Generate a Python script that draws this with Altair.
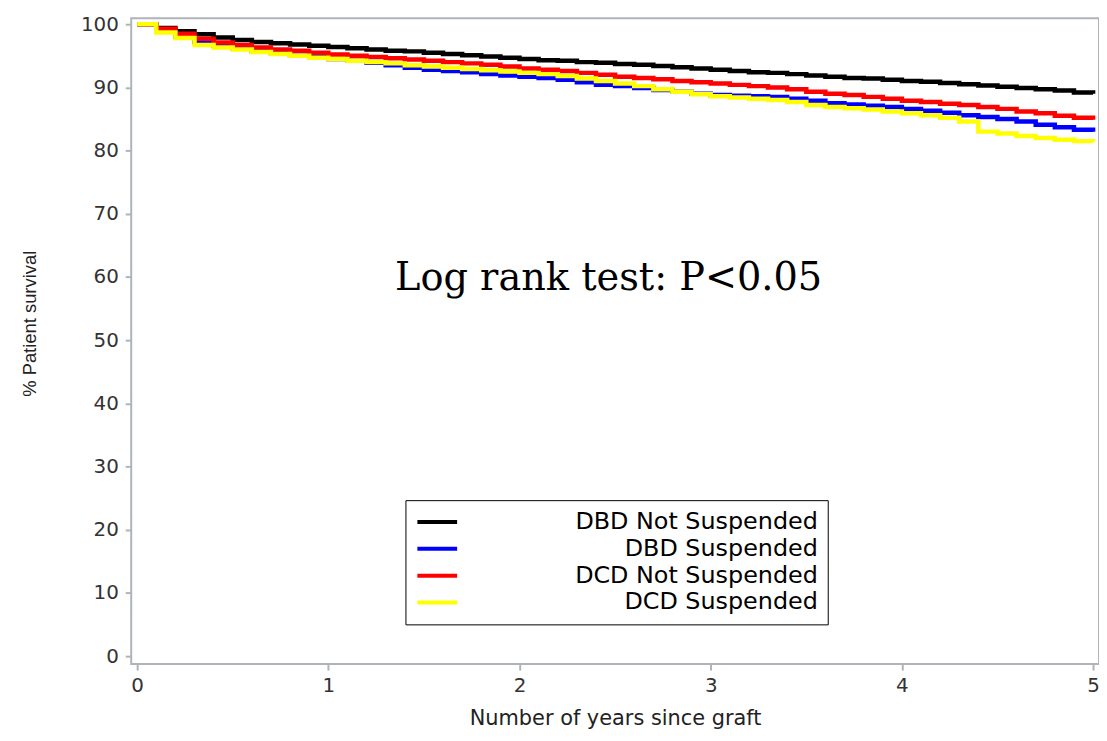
import altair as alt
import pandas as pd

# time grid (years since graft)
years = [round(i * 0.1, 1) for i in range(51)]

series_names = ["DBD Not Suspended", "DBD Suspended", "DCD Not Suspended", "DCD Suspended"]
series_colors = ["#000000", "#0000ff", "#ff0000", "#ffff00"]

dbd_not_suspended = [100, 99.4, 98.9, 98.4, 97.9, 97.5, 97.2, 97.0, 96.8, 96.6,
                     96.4, 96.2, 96.0, 95.8, 95.7, 95.5, 95.3, 95.1, 94.9, 94.7,
                     94.5, 94.3, 94.2, 94.0, 93.9, 93.7, 93.6, 93.4, 93.2, 93.0,
                     92.8, 92.6, 92.4, 92.3, 92.1, 91.9, 91.7, 91.5, 91.4, 91.2,
                     91.0, 90.9, 90.7, 90.5, 90.3, 90.1, 89.9, 89.7, 89.5, 89.2, 89.0]
dbd_suspended = [100, 99.0, 98.0, 97.2, 96.6, 96.2, 95.8, 95.4, 95.0, 94.8,
                 94.5, 94.2, 93.9, 93.5, 93.1, 92.8, 92.6, 92.4, 92.1, 91.9,
                 91.7, 91.5, 91.2, 90.8, 90.4, 90.2, 89.9, 89.6, 89.3, 89.0,
                 88.8, 88.7, 88.6, 88.5, 88.2, 87.9, 87.5, 87.3, 87.1, 86.9,
                 86.6, 86.3, 86.0, 85.6, 85.3, 85.0, 84.6, 84.1, 83.7, 83.3, 83.0]
dcd_not_suspended = [100, 99.3, 98.5, 97.7, 97.1, 96.7, 96.3, 96.0, 95.8, 95.5,
                     95.2, 95.0, 94.8, 94.6, 94.4, 94.2, 94.0, 93.8, 93.6, 93.3,
                     93.0, 92.8, 92.6, 92.3, 92.0, 91.7, 91.5, 91.3, 91.0, 90.8,
                     90.6, 90.4, 90.2, 90.0, 89.7, 89.3, 89.0, 88.8, 88.5, 88.2,
                     87.9, 87.7, 87.4, 87.2, 86.9, 86.6, 86.2, 85.9, 85.5, 85.2, 84.9]
dcd_suspended = [100, 98.7, 97.8, 96.7, 96.3, 96.0, 95.6, 95.3, 95.0, 94.7,
                 94.5, 94.2, 94.0, 93.8, 93.5, 93.3, 93.1, 92.9, 92.7, 92.5,
                 92.3, 92.1, 91.8, 91.4, 91.0, 90.6, 90.2, 89.7, 89.3, 88.9,
                 88.6, 88.4, 88.2, 88.0, 87.7, 87.2, 86.9, 86.7, 86.5, 86.2,
                 85.9, 85.6, 85.2, 84.6, 83.0, 82.7, 82.3, 82.0, 81.7, 81.5, 81.4]

x_ticks = [0, 1, 2, 3, 4, 5]
y_ticks = [0, 10, 20, 30, 40, 50, 60, 70, 80, 90, 100]
annotation = "Log rank test: P<0.05"

all_series = [dbd_not_suspended, dbd_suspended, dcd_not_suspended, dcd_suspended]
rows = []
for name, vals in zip(series_names, all_series):
    for t, v in zip(years, vals):
        rows.append({"group": name, "years": t, "survival": v})
df = pd.DataFrame(rows)

GRAY = "#b0b4b8"

x_enc = alt.X("years:Q",
              scale=alt.Scale(domain=[-0.031, 5.031], nice=False, zero=False),
              axis=alt.Axis(values=x_ticks, format="d", grid=False, domain=False,
                            tickColor=GRAY, tickWidth=2, tickSize=6,
                            labelFont="DejaVu Sans", labelFontSize=20, labelColor="#333333",
                            labelPadding=6,
                            title="Number of years since graft",
                            titleFont="DejaVu Sans", titleFontSize=21,
                            titleFontWeight="normal", titleColor="#222222",
                            titleBaseline="alphabetic", titleY=61))
y_enc = alt.Y("survival:Q",
              scale=alt.Scale(domain=[-1.258, 100.94], nice=False, zero=False),
              axis=alt.Axis(values=y_ticks, grid=False, domain=False,
                            tickColor=GRAY, tickWidth=2, tickSize=6,
                            labelFont="DejaVu Sans", labelFontSize=20, labelColor="#333333",
                            labelPadding=7,
                            title="% Patient survival",
                            titleFont="Liberation Sans", titleFontSize=18.5,
                            titleFontWeight="normal", titleColor="#222222",
                            titleX=-102, titleY=307, titleBaseline="middle",
                            titleAlign="center", titleAngle=270))

lines = alt.Chart(df).mark_line(interpolate="step-after", strokeWidth=4.5).encode(
    x=x_enc,
    y=y_enc,
    color=alt.Color("group:N",
                    scale=alt.Scale(domain=series_names, range=series_colors),
                    legend=alt.Legend(title=None, orient="none", legendX=276, legendY=485,
                                      symbolType="M-1,0H3", symbolSize=400,
                                      symbolStrokeWidth=4,
                                      labelFont="DejaVu Sans", labelFontSize=24,
                                      labelColor="#000000", labelAlign="right",
                                      labelOffset=381, labelLimit=420,
                                      strokeColor="#000000", padding=10, rowPadding=3)),
)

text = alt.Chart(pd.DataFrame({"label": [annotation]})).mark_text(
    font="DejaVu Serif", fontSize=38.5, baseline="alphabetic", align="center", color="#000000"
).encode(
    x=alt.datum(2.466),
    y=alt.datum(57.9),
    text="label:N",
)

chart = alt.layer(lines, text).properties(
    width=974, height=650,
    autosize=alt.AutoSizeParams(type="none"),
    padding={"left": 124, "top": 8, "right": 0, "bottom": 67},
).configure_view(stroke=GRAY, strokeWidth=2)

chart.save("out.html", embed_options={"renderer": "svg", "actions": False})
